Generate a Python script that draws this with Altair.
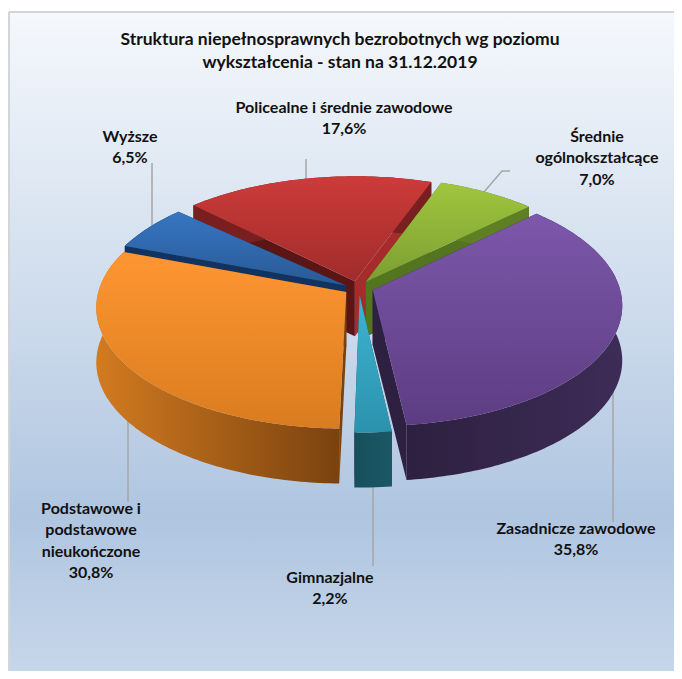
import math
import altair as alt
import pandas as pd

# ---------- chart data ----------
categories = ["Policealne i średnie zawodowe", "Średnie ogólnokształcące", "Zasadnicze zawodowe",
              "Gimnazjalne", "Podstawowe i podstawowe nieukończone", "Wyższe"]
shares = [17.6, 7.0, 35.8, 2.2, 30.8, 6.5]
title_lines = ["Struktura niepełnosprawnych bezrobotnych wg poziomu", "wykształcenia - stan na 31.12.2019"]
label_lines = [["Policealne i średnie zawodowe"], ["Średnie", "ogólnokształcące"], ["Zasadnicze zawodowe"],
               ["Gimnazjalne"], ["Podstawowe i", "podstawowe", "nieukończone"], ["Wyższe"]]

# ---------- layout & style ----------
CX, CY, RX, RY, K, EXPLODE, DEPTH, START = 358.5, 288, 247, 119, 0.12, 0.06, 55, -46
WARP_A, WARP_S, WARP_C = 1.8, 2.2, 0.3  # the drawing's own view distortion of the angles, in degrees
end_trim = [0, 0, 0, 0, 0, 2.0]         # small visual gap at the end of a slice, in degrees
z_nudge = [0, 0, 0, 0, 0, -0.012]
label_pos = [(344, 108), (597, 137), (576, 529), (330, 578), (91, 509), (130, 137)]
LINE_H = 21.3
top_cols = [("#cc3b39", "#a02c2c"), ("#a0c63e", "#7c9e33"), ("#7d57ab", "#5c3d82"),
            ("#3db4d3", "#2b92ac"), ("#ff9632", "#d97c1f"), ("#3775c2", "#285a95")]
outer_cols = [("#7a1f1f", "#7a1f1f"), ("#5e7f24", "#5e7f24"), ("#2e2040", "#3d2c57"),
              ("#174f5c", "#1a5866"), ("#d27b20", "#7a4210"), ("#12335f", "#12335f")]
start_wall = ["#5c1515", "#54751f", "#2e2040", "#174f5c", "#7a4210", "#12335f"]
end_wall = ["#a62c2c", "#54751f", "#2e2040", "#174f5c", "#7a4210", "#12335f"]
leaders = [[(152, 163), (152, 226)], [(306, 159), (306, 182)], [(484, 192), (502, 171), (510, 171)],
           [(613, 380), (613, 522)], [(373, 480), (373, 566)], [(128, 410), (128, 502)]]
draw_order = [0, 5, 1, 3, 2, 4]
XS = alt.Scale(domain=[8, 674], range=[0, 666], nice=False, zero=False)
YS = alt.Scale(domain=[8, 671], range=[0, 663], nice=False, zero=False)


def project(X, Z):
    s = 1 / (1 + K * Z)
    return CX + RX * X * s, CY - RY * Z * s


def warp(deg):
    r = math.radians(deg)
    return math.radians(deg + WARP_A + WARP_S * math.sin(r) + WARP_C * math.cos(r))


def grad(c1, c2, horizontal=False):
    return alt.LinearGradient(gradient="linear", x1=0, y1=0, x2=1 if horizontal else 0, y2=0 if horizontal else 1,
                              stops=[alt.GradientStop(offset=0, color=c1), alt.GradientStop(offset=1, color=c2)])


def poly(pts, fill, stroke=None, sw=0.5):
    closed = list(pts) + [pts[0]]
    df = pd.DataFrame({"x": [p[0] for p in closed], "y": [p[1] for p in closed], "i": range(len(closed))})
    return alt.Chart(df).mark_line(fill=fill, stroke=stroke or "transparent", strokeWidth=sw).encode(
        x=alt.X("x:Q", scale=XS, axis=None), y=alt.Y("y:Q", scale=YS, axis=None), order=alt.Order("i:Q"))


layers = [poly([(9, 12), (676, 12), (676, 675), (9, 675)],
               alt.LinearGradient(gradient="linear", x1=0, y1=0, x2=0, y2=1, stops=[
                   alt.GradientStop(offset=0, color="#f5f8fc"),
                   alt.GradientStop(offset=0.5, color="#c9d8ea"),
                   alt.GradientStop(offset=0.76, color="#afc5e0"),
                   alt.GradientStop(offset=1, color="#c7d7ea")]), "#d3d6d9", 2)]

# leader lines
for seg in leaders:
    df = pd.DataFrame({"x": [p[0] for p in seg], "y": [p[1] for p in seg], "i": range(len(seg))})
    layers.append(alt.Chart(df).mark_line(stroke="#a6a6a6", strokeWidth=1.5).encode(
        x=alt.X("x:Q", scale=XS, axis=None), y=alt.Y("y:Q", scale=YS, axis=None), order=alt.Order("i:Q")))

# slices from the shares
total = sum(shares)
bounds = [START]
for v in shares:
    bounds.append(bounds[-1] + v / total * 360)

for n in draw_order:
    a0, a1 = bounds[n], bounds[n + 1]
    mid = math.radians((a0 + a1) / 2)
    a1 -= end_trim[n]
    ox, oz = EXPLODE * math.sin(mid), EXPLODE * math.cos(mid) + z_nudge[n]
    apex = project(ox, oz)
    steps = max(int(a1 - a0), 2)
    arc = []
    for t in range(steps + 1):
        w = warp(a0 + (a1 - a0) * t / steps)
        arc.append(project(ox + math.sin(w), oz + math.cos(w)))
    down = lambda p: (p[0], p[1] + DEPTH)
    layers.append(poly([apex, arc[0], down(arc[0]), down(apex)], start_wall[n]))
    layers.append(poly([apex, arc[-1], down(arc[-1]), down(apex)], end_wall[n]))
    layers.append(poly(arc + [down(p) for p in reversed(arc)], grad(*outer_cols[n], horizontal=True)))
    layers.append(poly([apex] + arc, grad(*top_cols[n])))

# texts
rows = []
for i, line in enumerate(title_lines):
    rows.append({"x": 340, "y": 40 + 23 * i, "t": line, "s": "title"})
for n, lines in enumerate(label_lines):
    px, py = label_pos[n]
    full = lines + [f"{shares[n]:.1f}%".replace(".", ",")]
    for j, line in enumerate(full):
        rows.append({"x": px, "y": py + LINE_H * j, "t": line, "s": "label"})
tdf = pd.DataFrame(rows)
for kind, size in (("title", 17.5), ("label", 16)):
    layers.append(alt.Chart(tdf[tdf.s == kind]).mark_text(
        font="Lato", fontWeight="bold", fontSize=size, color="#111111", baseline="middle", align="center"
    ).encode(x=alt.X("x:Q", scale=XS, axis=None), y=alt.Y("y:Q", scale=YS, axis=None), text="t:N"))

chart = alt.layer(*layers).properties(width=666, height=663, padding=0, autosize="none", background="white"
                                      ).configure_view(stroke=None)
chart.save("out.html", embed_options={"renderer": "svg", "actions": False})
